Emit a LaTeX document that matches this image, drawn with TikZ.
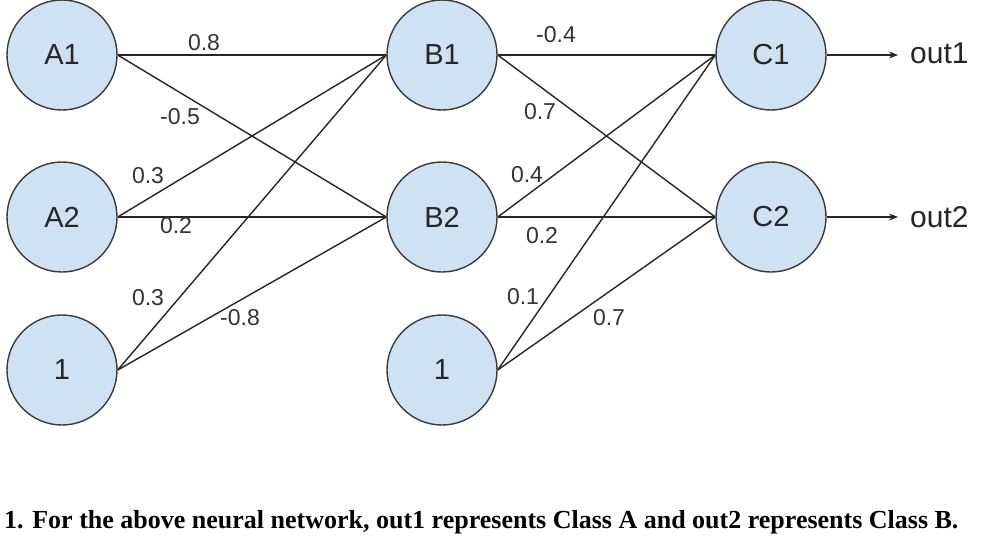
\documentclass[tikz,border=0pt]{standalone}
\usepackage{fontspec}
\setmainfont{Liberation Serif}
\newfontfamily\arialf{Liberation Sans}
\usetikzlibrary{shapes.geometric,arrows.meta}
\definecolor{nfill}{HTML}{CFE2F3}
\definecolor{nline}{HTML}{3A3A3A}
\tikzset{
  neuron/.style={ellipse,draw=nline,line width=1.4pt,fill=nfill,minimum width=110pt,minimum height=110pt,inner sep=0pt,font=\arialf\fontsize{29}{32}\selectfont,text=black!85},
  wlabel/.style={font=\arialf\fontsize{23}{25}\selectfont,text=black!80,inner sep=0pt},
  conn/.style={draw=black!85,line width=1.4pt},
  outarrow/.style={conn,-{Stealth[length=9pt,width=7pt]}},
  outtext/.style={font=\arialf\fontsize{30}{33}\selectfont,text=black!85,inner sep=0pt,anchor=west}
}
\begin{document}
\begin{tikzpicture}[x=1pt,y=-1pt]
\useasboundingbox[fill=white] (0,0) rectangle (1000,549);
% nodes
\node[neuron] (A1) at (62,55) {A1};
\node[neuron] (A2) at (62,217) {A2};
\node[neuron] (A0) at (62,370) {1};
\node[neuron] (B1) at (442,55) {B1};
\node[neuron] (B2) at (442,217) {B2};
\node[neuron] (B0) at (442,370) {1};
\node[neuron] (C1) at (771,55) {C1};
\node[neuron] (C2) at (771,217) {C2};
% connectors layer 1
\draw[conn] (A1.east) -- (B1.west);
\draw[conn] (A1.east) -- (B2.west);
\draw[conn] (A2.east) -- (B1.west);
\draw[conn] (A2.east) -- (B2.west);
\draw[conn] (A0.east) -- (B1.west);
\draw[conn] (A0.east) -- (B2.west);
% connectors layer 2
\draw[conn] (B1.east) -- (C1.west);
\draw[conn] (B1.east) -- (C2.west);
\draw[conn] (B2.east) -- (C1.west);
\draw[conn] (B2.east) -- (C2.west);
\draw[conn] (B0.east) -- (C1.west);
\draw[conn] (B0.east) -- (C2.west);
% outputs
\coordinate (o1) at (898,55);
\coordinate (o2) at (898,217);
\draw[outarrow] (C1.east) -- (o1);
\draw[outarrow] (C2.east) -- (o2);
\node[outtext] (out1) at (910,53) {out1};
\node[outtext] (out2) at (910,217) {out2};
% weight labels
\node[wlabel] (w1) at (204,43) {0.8};
\node[wlabel] (w2) at (180,117) {-0.5};
\node[wlabel] (w3) at (148,176) {0.3};
\node[wlabel] (w4) at (176,226) {0.2};
\node[wlabel] (w5) at (148,298) {0.3};
\node[wlabel] (w6) at (240,318) {-0.8};
\node[wlabel] (w7) at (556,35) {-0.4};
\node[wlabel] (w8) at (540,112) {0.7};
\node[wlabel] (w9) at (527,175) {0.4};
\node[wlabel] (w10) at (542,236) {0.2};
\node[wlabel] (w11) at (523,297) {0.1};
\node[wlabel] (w12) at (609,318) {0.7};
% caption
\node[anchor=west,inner sep=0pt,font=\bfseries\fontsize{26}{28}\selectfont] (cap) at (4,522) {1. For the above neural network, out1 represents Class A and out2 represents Class B.};
\end{tikzpicture}
\end{document}
